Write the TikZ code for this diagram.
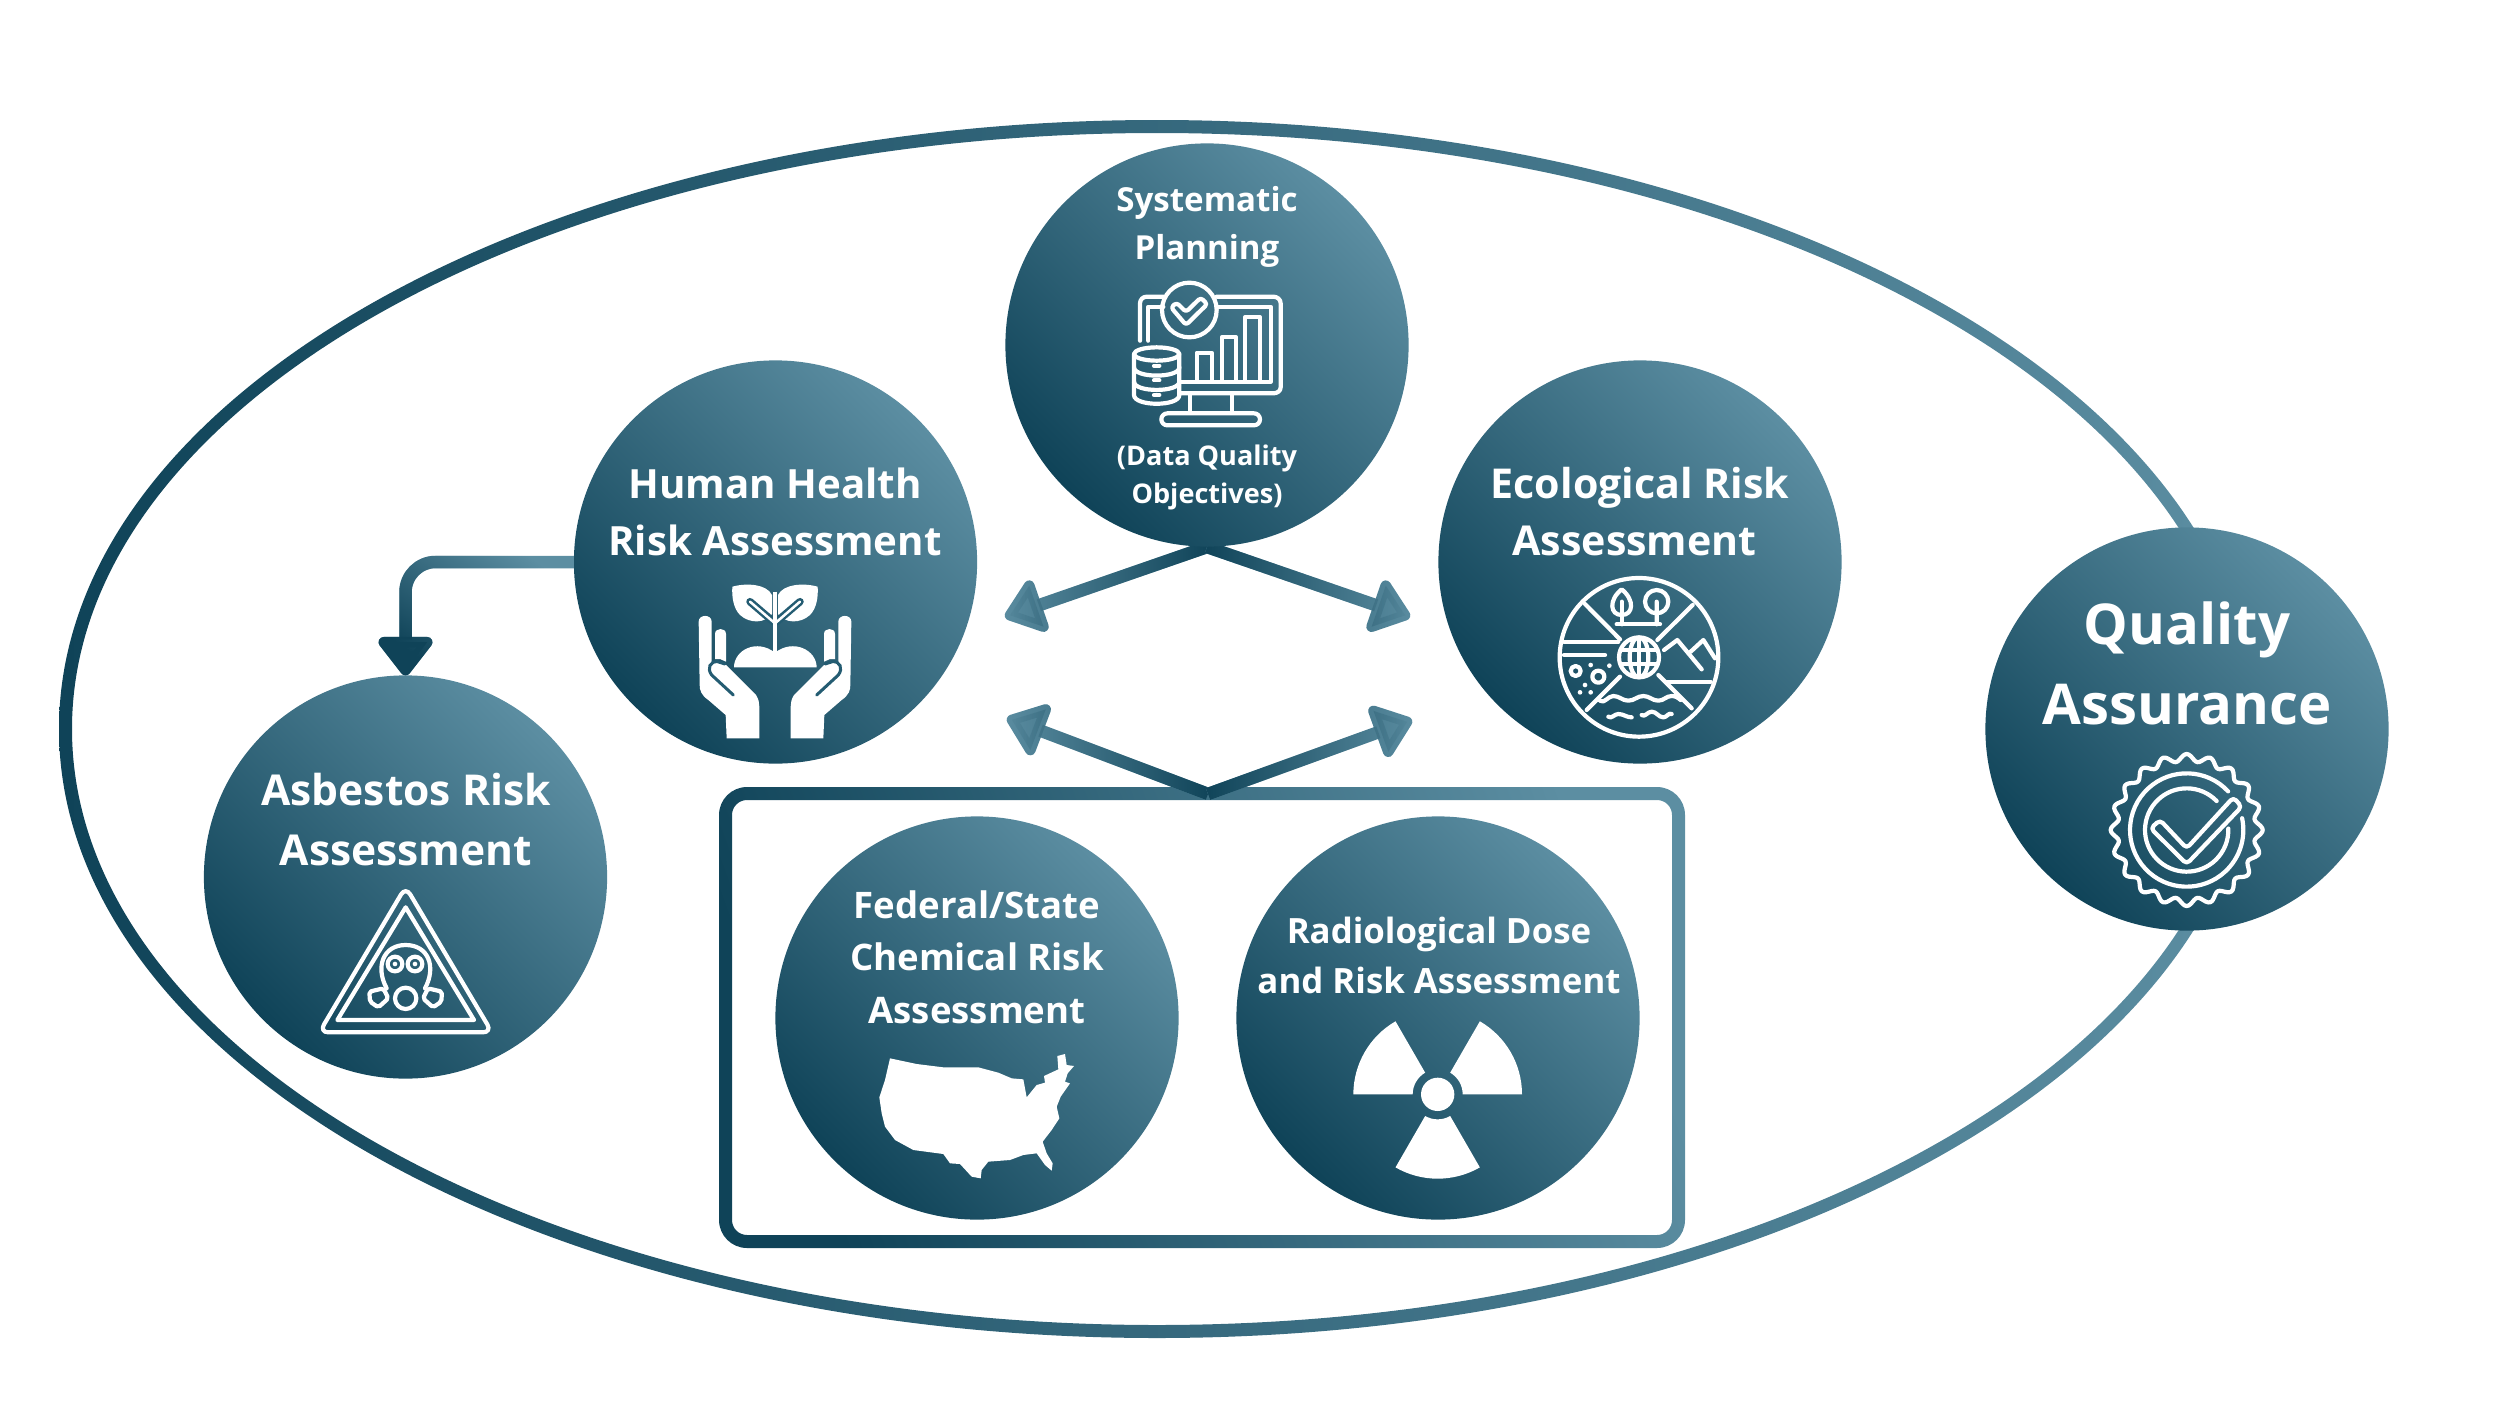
\documentclass[tikz,border=0pt]{standalone}
\usepackage{fontspec}
\setmainfont{Open Sans}
\usetikzlibrary{arrows.meta,fadings,calc}
\definecolor{Deep}{HTML}{0F4358}
\definecolor{Pale}{HTML}{5C8EA2}
\definecolor{Slit}{HTML}{245C72}
\tikzfading[name=darkeast,left color=transparent!100,right color=transparent!0]
\tikzfading[name=darkwest,left color=transparent!0,right color=transparent!100]
\tikzfading[name=darksouth,top color=transparent!100,bottom color=transparent!0,shading angle=-45]
\newcommand{\discfont}[2]{\fontsize{#1}{#2}\selectfont\bfseries}
\begin{document}
\begin{tikzpicture}[
  x=.01cm,y=-.01cm,
  disc/.style={circle,inner sep=0pt,outer sep=0pt,minimum size=4.03cm,
    bottom color=Deep,top color=Pale,shading angle=-45},
  disclabel/.style={text=white,align=center,anchor=base,inner sep=0pt},
  flow/.style={line width=.125cm,-{Triangle[round,length=.42cm,width=.62cm]}},
  iconview/.style 2 args={shift={(#1,#2)},x=.01cm/3,y=-.01cm/3},
  iconline/.style={draw=white,line width=.042cm,line cap=round,line join=round},
  iconfill/.style={fill=white}
]
\useasboundingbox (0,0) rectangle (2500,1406);
% outer ring and grouping frame go first, the discs sit on top of them
\path[even odd rule,left color=Deep,right color=Pale]
  (1157,729) ellipse [x radius=1098,y radius=609]
  (1157,729) ellipse [x radius=1085,y radius=596];
\path[even odd rule,bottom color=Deep,top color=Pale,shading angle=-70]
  [rounded corners=.28cm] (719,787) rectangle (1685,1248)
  [rounded corners=.15cm] (732,800) rectangle (1672,1235);
\coordinate (framepeak) at (1208,794);
\coordinate (tipul) at (1005,617);
\coordinate (tipur) at (1410,617);
\coordinate (tipll) at (1007,718);
\coordinate (tiplr) at (1412,720);
\coordinate (systembase) at (1207,547);
% arrows: a pale stroke with a dark faded stroke over it
\foreach \from/\to/\fade in {systembase/tipul/darkeast,systembase/tipur/darkwest,
    framepeak/tipll/darkeast,framepeak/tiplr/darkwest}{
  \draw[flow,Pale] (\from)--(\to);
  \draw[flow,Deep,path fading=\fade] (\from)--(\to);
}
\node[disc] (system) at (1207,345) {};
\node[disc] (human) at (775.5,562) {};
\node[disc] (eco) at (1640,562) {};
\node[disc] (asbestos) at (405.5,877) {};
\node[disc] (federal) at (977,1018) {};
\node[disc] (radio) at (1438,1018) {};
\node[disc] (quality) at (2187,729) {};
\draw[flow,Pale,rounded corners=.3cm] (human.west)-|(asbestos.north);
\draw[flow,Deep,rounded corners=.3cm,path fading=darksouth] (human.west)-|(asbestos.north);
\node[disclabel,font=\discfont{9.4}{13.4}] (systemtop) at (1207,259) {Systematic\\Planning};
\node[disclabel,font=\discfont{7.7}{10.8}] (systemnote) at (1207,503) {(Data Quality\\Objectives)};
\node[disclabel,font=\discfont{11.45}{16.2}] (humantext) at (775,555) {Human Health\\Risk Assessment};
\node[disclabel,font=\discfont{11.7}{16.2}] (ecotext) at (1640,555) {Ecological Risk\\Assessment\hspace*{.11cm}};
\node[disclabel,font=\discfont{12.1}{17}] (asbestostext) at (406,865) {Asbestos Risk\\Assessment};
\node[disclabel,font=\discfont{10.4}{14.8}] (federaltext) at (977,1023) {Federal/State\\Chemical Risk\\Assessment};
\node[disclabel,font=\discfont{9.9}{14.2}] (radiotext) at (1439,993) {Radiological Dose\\and Risk Assessment};
\node[disclabel,font=\discfont{16}{22.5}] (qualitytext) at (2187,724) {Quality\\Assurance};
% monitor icon
\begin{scope}[iconview={1000}{130}]
  \draw[iconline] (490,500)--(440,500) to[out=180,in=90] (420,520)--(420,632);
  \draw[iconline] (650,500)--(820,500) to[out=0,in=90] (842,520)--(842,772) to[out=-90,in=0] (820,790)--(540,790);
  \draw[iconline] (445,632)--(445,530)--(490,530);
  \draw[iconline] (650,530)--(812,530)--(812,755)--(540,755);
  \draw[iconline] (590,755)--(590,668)--(635,668)--(635,755);
  \draw[iconline] (665,755)--(665,622)--(708,622)--(708,755);
  \draw[iconline] (735,755)--(735,562)--(780,562)--(780,755);
  \draw[iconline] (568,540) circle [radius=82];
  \draw[iconline,rounded corners=.03cm] (513,532)--(530,518)--(558,546)--(602,503)--(622,522)--(558,585)--cycle;
  \draw[iconline] (570,795)--(570,845) (695,795)--(695,845);
  \draw[iconline,rounded corners=.06cm] (484,886)--(484,850)--(780,850)--(780,886)--cycle;
  \draw[iconline] (470,672) ellipse [x radius=68,y radius=20];
  \draw[iconline] (402,672)--(402,795) .. controls (402,830) and (538,830) .. (538,795)--(538,672);
  \draw[iconline] (402,712) .. controls (402,745) and (538,745) .. (538,712);
  \draw[iconline] (402,755) .. controls (402,788) and (538,788) .. (538,755);
  \foreach \y in {707,751,795}{\draw[iconline] (462,\y)--(478,\y);}
\end{scope}
% hands and seedling icon
\begin{scope}[iconview={560}{360}]
  \fill[iconfill] (522,922) .. controls (522,870) and (590,835) .. (645,878)
    .. controls (700,835) and (770,870) .. (770,922)--cycle;
  \foreach \s in {1,-1}{
  \begin{scope}[shift={(645,0)},xscale=\s]
    \fill[iconfill] (-229,785) .. controls (-229,762) and (-190,762) .. (-190,785)--(-190,905)
      --(-175,903)--(-150,912)--(-57,1005) .. controls (-49,1018) and (-47,1028) .. (-47,1040)
      --(-47,1135)--(-145,1135)--(-148,1065)--(-200,1020) .. controls (-222,1005) and (-226,990) .. (-226,975)--cycle;
    \fill[iconfill] (-180,897)--(-180,822) .. controls (-180,802) and (-147,802) .. (-147,822)--(-147,905)--(-165,897)--cycle;
    \draw[Slit,line width=.03cm,line cap=round] (-125,1005)--(-190,945) .. controls (-205,925) and (-195,903) .. (-172,905)--(-150,912);
    \fill[iconfill] (-128,680) .. controls (-85,668) and (-25,672) .. (-9,705)--(-9,762)
      .. controls (-30,790) and (-75,792) .. (-105,765) .. controls (-125,745) and (-130,710) .. cycle;
    \draw[Slit,line width=.075cm,line cap=round] (-75,725)--(-5,785);
    \draw[white,line width=.025cm,line cap=round] (-75,725)--(0,790);
  \end{scope}}
  \draw[white,line width=.035cm] (645,695)--(645,880);
\end{scope}
% landscape icon
\begin{scope}[iconview={1440}{360}]
  \draw[iconline] (597,892) circle [radius=238];
  \draw[iconline] (435,732)--(540,838) (758,735)--(652,840) (440,1050)--(540,950) (755,1045)--(655,945);
  \draw[iconline] (597,892) circle [radius=60] (597,892) ellipse [x radius=28,y radius=60];
  \draw[iconline] (597,832)--(597,952) (542,870)--(652,870) (542,912)--(652,912);
  \draw[iconline] (372,845)--(535,845) (372,885)--(495,885);
  \draw[iconline] (407,933) circle [radius=15] (475,950) circle [radius=18];
  \foreach \c in {(452,915),(508,917),(435,975),(420,997),(452,997)}{\fill[iconfill] \c circle [radius=7];}
  \draw[iconline] (480,1022) to[out=-40,in=180] (520,1008) to[out=0,in=180] (565,1022) to[out=0,in=180] (610,1008) to[out=0,in=180] (655,1022) to[out=0,in=180] (695,1008) to[out=0,in=140] (722,1020);
  \draw[iconline] (505,1070) to[out=-40,in=180] (535,1062) to[out=0,in=180] (575,1072);
  \draw[iconline] (605,1065) to[out=-40,in=180] (635,1055) to[out=0,in=180] (670,1072) to[out=0,in=150] (695,1062);
  \draw[iconline] (672,870)--(712,840)--(785,928) (752,875)--(790,840)--(825,895);
  \draw[iconline] (680,965)--(812,965);
  \draw[iconline] (545,688) .. controls (505,720) and (510,765) .. (545,765) .. controls (580,765) and (585,720) .. (545,688)--cycle;
  \draw[iconline] (545,725)--(545,793);
  \draw[iconline] (650,725) circle [radius=35] (650,725)--(650,793);
  \draw[iconline] (530,793)--(660,793);
\end{scope}
% hazard icon
\begin{scope}[iconview={200}{670}]
  \draw[iconline,rounded corners=.09cm] (617,650)--(358,1087)--(876,1087)--cycle;
  \draw[iconline] (617,712)--(412,1050)--(822,1050)--cycle;
  \draw[iconline] (560,955) .. controls (525,890) and (550,825) .. (617,825) .. controls (685,825) and (710,890) .. (675,955);
  \draw[iconline] (585,882) circle [radius=22] (645,882) circle [radius=22];
  \fill[iconfill] (585,882) circle [radius=7] (645,882) circle [radius=7];
  \draw[iconline] (617,985) circle [radius=32];
  \draw[iconline,rounded corners=.02cm] (550,955)--(508,965)--(510,995)--(535,1012)--(565,985)--cycle;
  \draw[iconline,rounded corners=.02cm] (684,955)--(726,965)--(724,995)--(699,1012)--(669,985)--cycle;
\end{scope}
% map icon
\begin{scope}[iconview={770}{810}]
  \fill[iconfill] (360,745)--(440,762)--(520,772)--(625,772)--(685,788)--(725,805)--(760,808)
    --(770,862)--(800,825)--(825,818)--(822,798)--(865,778)--(862,738)--(885,732)--(890,765)
    --(912,768)--(893,790)--(885,815)--(900,820)--(872,860)--(860,890)--(868,925)--(845,960)
    --(818,995)--(830,1030)--(848,1060)--(845,1082)--(825,1065)--(800,1030)--(760,1035)
    --(720,1050)--(655,1055)--(635,1080)--(632,1105)--(605,1100)--(570,1062)--(540,1060)
    --(520,1032)--(430,1020)--(375,990)--(345,950)--(335,910)--(328,862)--(345,810)--cycle;
\end{scope}
% radiation icon
\begin{scope}[iconview={1230}{810}]
  \fill[iconfill] (623,853) circle [radius=50];
  \foreach \a in {0,-120,-240}{
    \fill[iconfill] ([shift={(\a:253)}]623,853) arc [start angle=\a,delta angle=-60,radius=253]
      --([shift={(\a-60:75)}]623,853) arc [start angle=\a-60,delta angle=60,radius=75]--cycle;
  }
\end{scope}
% seal icon
\begin{scope}[iconview={1980}{520}]
  \draw[iconline] plot [domain=0:360,samples=241,smooth] ({620+(217+11*cos(20*\x))*cos(\x)},{930+(217+11*cos(20*\x))*sin(\x)})--cycle;
  \draw[iconline] (620,930)+(-43:170) arc [start angle=-43,end angle=-372,radius=170];
  \draw[iconline] (620,930)+(-44:125) arc [start angle=-44,end angle=-362,radius=125];
  \draw[iconline,rounded corners=.04cm] (540,900)--(512,925)--(620,1032)--(785,860)--(760,832)--(620,985)--cycle;
\end{scope}
\end{tikzpicture}
\end{document}
